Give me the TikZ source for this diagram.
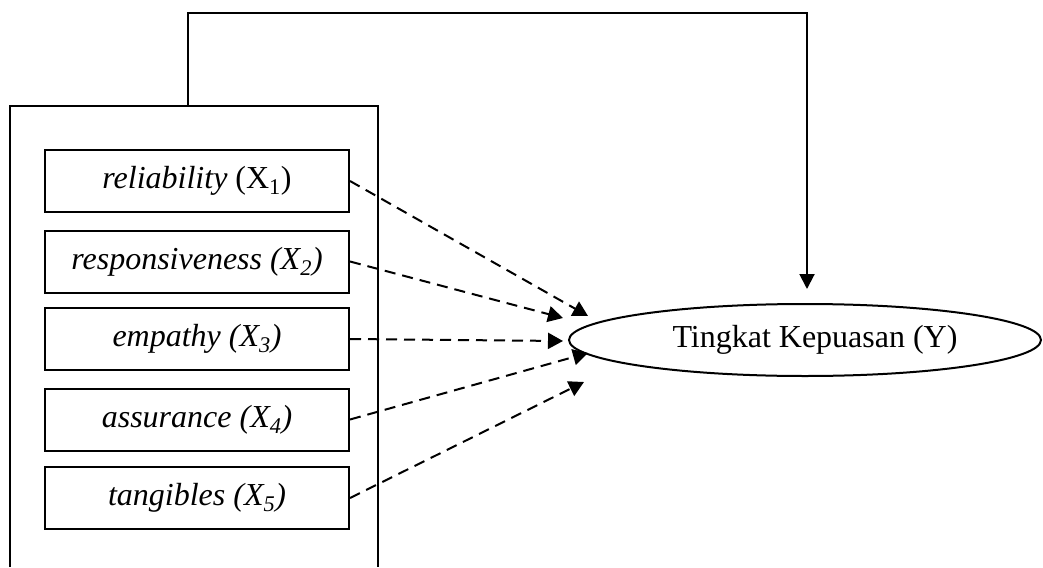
\documentclass[tikz,border=0pt]{standalone}
\usepackage{fontspec}
\setmainfont{Liberation Serif}
\usetikzlibrary{shapes.geometric,arrows.meta}
\begin{document}
\begin{tikzpicture}[x=1pt,y=-1pt,
  varbox/.style={draw,line width=2pt,minimum width=304pt,minimum height=62pt,inner sep=0pt,font=\fontsize{32}{38}\selectfont},
  dasharrow/.style={line width=2pt,dash pattern=on 11pt off 7pt,-{Triangle[length=15pt,width=16pt]}},
  solidline/.style={line width=2pt}]
\useasboundingbox (0,0) rectangle (1043,567);
% outer box (open at bottom)
\draw[solidline] (10,567) -- (10,106) -- (378,106) -- (378,567);
\coordinate (ob) at (188,106);
\node[varbox] (x1) at (197,181) {\textit{reliability} (X\textsubscript{1})};
\node[varbox] (x2) at (197,261.5) {\textit{responsiveness (X\textsubscript{2})}};
\node[varbox] (x3) at (197,339) {\textit{empathy (X\textsubscript{3})}};
\node[varbox] (x4) at (197,419.5) {\textit{assurance (X\textsubscript{4})}};
\node[varbox] (x5) at (197,498) {\textit{tangibles (X\textsubscript{5})}};
\node[draw,ellipse,line width=2pt,minimum width=472pt,minimum height=72pt,inner sep=0pt,font=\fontsize{32}{38}\selectfont] (Y) at (805,340) {\hspace*{20pt}Tingkat Kepuasan (Y)};
\coordinate (t1) at (588,316);
\coordinate (t2) at (563,318);
\coordinate (t3) at (563,341);
\coordinate (t4) at (588,353);
\coordinate (t5) at (584,382);
\draw[dasharrow] (x1.east) -- (t1);
\draw[dasharrow] (x2.east) -- (t2);
\draw[dasharrow] (x3.east) -- (t3);
\draw[dasharrow] (x4.east) -- (t4);
\draw[dasharrow] (x5.east) -- (t5);
\coordinate (corner) at (807,13);
\coordinate (ytip) at ([yshift=14pt]Y.north -| corner);
\draw[solidline,-{Triangle[length=15pt,width=15pt]}] (ob) |- (corner) -- (ytip);
\end{tikzpicture}
\end{document}
